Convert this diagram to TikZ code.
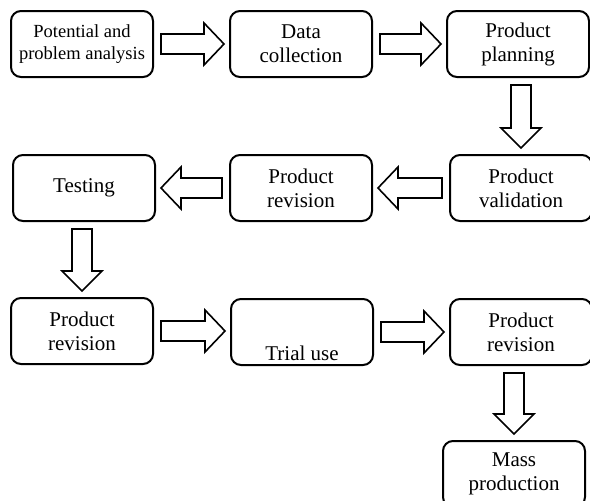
\documentclass[tikz,border=0pt]{standalone}
\usepackage{fontspec}
\setmainfont{Liberation Serif}
\usetikzlibrary{calc}

\tikzset{
  stage/.style={draw, line width=2pt, rounded corners=10pt, minimum width=142pt,
    minimum height=66pt, inner sep=2pt, align=center, font=\fontsize{21}{24}\selectfont},
  blockarrow/.style={draw, line width=1.6pt, line join=miter, fill=white},
}

% hollow block arrows between two named stages
\newcommand{\rightblock}[2]{%
  \draw[blockarrow] let \p1=(#1.east), \p2=(#2.west) in
    (\x1+7pt,\y1+10pt) -- (\x2-25pt,\y1+10pt) -- (\x2-25pt,\y1+21pt) -- (\x2-5pt,\y1)
    -- (\x2-25pt,\y1-21pt) -- (\x2-25pt,\y1-10pt) -- (\x1+7pt,\y1-10pt) -- cycle;}
\newcommand{\leftblock}[2]{%
  \draw[blockarrow] let \p1=(#1.west), \p2=(#2.east) in
    (\x1-7pt,\y1+10pt) -- (\x2+25pt,\y1+10pt) -- (\x2+25pt,\y1+21pt) -- (\x2+5pt,\y1)
    -- (\x2+25pt,\y1-21pt) -- (\x2+25pt,\y1-10pt) -- (\x1-7pt,\y1-10pt) -- cycle;}
\newcommand{\downblock}[2]{%
  \draw[blockarrow] let \p1=(#1.south), \p2=(#2.north) in
    (\x2-10pt,\y1-7pt) -- (\x2-10pt,\y2+26pt) -- (\x2-20pt,\y2+26pt) -- (\x2,\y2+6pt)
    -- (\x2+20pt,\y2+26pt) -- (\x2+10pt,\y2+26pt) -- (\x2+10pt,\y1-7pt) -- cycle;}

\begin{document}
\begin{tikzpicture}[x=1pt,y=-1pt]
\path[use as bounding box, clip] (0,0) rectangle (590,501);
% first row
\node[stage, font=\fontsize{18.5}{22}\selectfont] (analysis) at (82,44) {Potential and\\problem analysis};
\node[stage] (collection) at (301,44) {Data\\collection};
\node[stage] (planning) at (518,44) {Product\\planning};
% second row
\node[stage] (validation) at (521,188) {Product\\validation};
\node[stage] (revisionA) at (301,188) {Product\\revision};
\node[stage] (testing) at (84,188) {Testing};
% third row
\node[stage] (revisionB) at (82,331) {Product\\revision};
\node[stage] (trial) at (302,332) {\smash{\raisebox{-28pt}{Trial use}}};
\node[stage] (revisionC) at (521,332) {Product\\revision};
\node[stage] (massprod) at (514,474) {Mass\\production};

\rightblock{analysis}{collection}
\rightblock{collection}{planning}
\downblock{planning}{validation}
\leftblock{validation}{revisionA}
\leftblock{revisionA}{testing}
\downblock{testing}{revisionB}
\rightblock{revisionB}{trial}
\rightblock{trial}{revisionC}
\downblock{revisionC}{massprod}
\end{tikzpicture}
\end{document}
